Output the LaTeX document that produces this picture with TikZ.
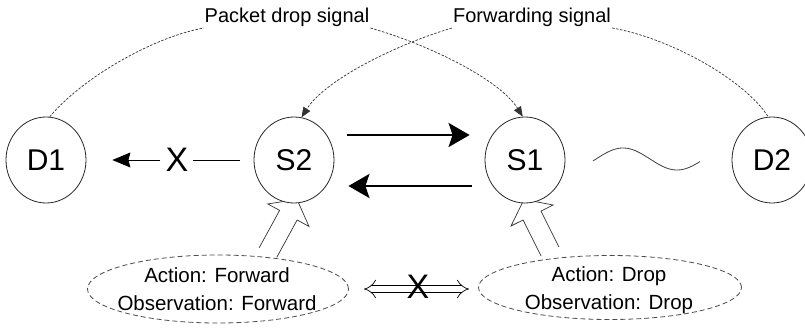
\documentclass[tikz,border=0pt]{standalone}
\usepackage{fontspec}
\setmainfont{Liberation Sans}
\usetikzlibrary{arrows.meta,calc,shapes.geometric}
\pgfdeclarelayer{bg}
\pgfsetlayers{bg,main}
\tikzset{
 circ/.style={ellipse, draw=black!85, line width=0.8pt, fill=white, minimum width=80pt, minimum height=86pt, inner sep=0pt, font=\fontsize{30}{36}\selectfont},
 obs/.style={ellipse, draw=black!70, line width=0.8pt, dash pattern=on 5pt off 3pt, inner sep=0pt},
 obstext/.style={align=center, inner sep=0pt, font=\fontsize{20.5}{28}\selectfont},
 sig/.style={inner sep=1pt, font=\fontsize{20}{24}\selectfont},
 sigline/.style={draw=black!80, line width=0.7pt, dash pattern=on 2.5pt off 1.5pt},
 sigarrow/.style={sigline, -{Triangle[length=10pt,width=8pt]}},
 bigx/.style={inner sep=0pt, font=\fontsize{34}{40}\selectfont},
 flow/.style={line width=2.6pt, -{Stealth[length=21pt,width=24pt,inset=4pt]}},
 thinflow/.style={line width=0.8pt},
 hollow/.style={draw=black!80, line width=0.7pt, line join=miter},
 wave/.style={line width=0.8pt, draw=black!75},
}
\newcommand\hollowarrow[3]{% base, tip, head-base name
  \coordinate (#3) at ($(#2)!18pt!(#1)$);
  \draw[hollow] ($(#1)!10pt!90:(#2)$) -- ($(#3)!10pt!90:(#2)$) -- ($(#3)!23.5pt!90:(#2)$) -- (#2)
     -- ($(#3)!23.5pt!-90:(#2)$) -- ($(#3)!10pt!-90:(#2)$) -- ($(#1)!10pt!-90:(#2)$);
}
\begin{document}
\begin{tikzpicture}[x=1pt,y=-1pt]
\useasboundingbox (0,0) rectangle (805,329);
\begin{pgfonlayer}{bg}
\fill[white] (0,0) rectangle (805,329);
\end{pgfonlayer}

% circles
\node[circ] (D1) at (46,160) {D1};
\node[circ] (S2) at (294,160) {S2};
\node[circ] (S1) at (525,160) {S1};
\node[circ] (D2) at (772,160) {D2};

% signal labels
\node[sig] (pd) at (287,17.5) {Packet drop signal};
\node[sig] (fw) at (532,17.5) {Forwarding signal};

% observation ellipses
\node[obs, minimum width=261pt, minimum height=68pt] (le) at (218,289) {};
\node[obs, minimum width=263pt, minimum height=64pt] (re) at (610,287.5) {};
\node[obstext] (ltxt) at (217,288.7) {Action: Forward\\Observation: Forward};
\node[obstext] (rtxt) at (609,290) {Action: Drop\\Observation: Drop};

% dashed signal curves
\draw[sigline] (D1.85) .. controls (80,80) and (150,38) .. (pd.south west);
\draw[sigarrow] (pd.south east) .. controls (430,45) and (500,80) .. (S1.93);
\draw[sigarrow] (fw.south west) .. controls (395,45) and (325,80) .. (S2.80);
\draw[sigline] (fw.south east) .. controls (670,38) and (745,80) .. (D2.95);

% thick flows between S2 and S1
\draw[flow, shorten <=13pt, shorten >=15pt] ([yshift=25pt]S2.east) -- ([yshift=25pt]S1.west);
\draw[flow, shorten <=13pt, shorten >=14pt] ([yshift=-26pt]S1.west) -- ([yshift=-26pt]S2.east);

% blocked S2 -> D1
\node[bigx] (x1) at (177,160) {X};
\draw[thinflow, shorten <=14pt, shorten >=4pt] (S2.west) -- (x1.east);
\draw[thinflow, -{Stealth[length=18pt,width=15pt,inset=2pt]}, shorten <=5pt, shorten >=26pt] (x1.west) -- (D1.east);

% blocked double arrow between ellipses
\draw[double=white, double distance=6pt, line width=0.7pt, {Implies[scale=1.25]}-{Implies[scale=1.25]}, shorten <=15pt, shorten >=9pt] (le.east) -- (le.east -| re.west);
\node[bigx] (x2) at (418,287) {X};

% wave between S1 and D2
\draw[wave] plot[domain=593:700, samples=80, smooth] (\x, {159 - 11*cos((\x-623)/108*360)});

% hollow block arrows (behind circles)
\coordinate (lb) at (268,252.5);
\coordinate (rb) at (550,251.5);
\coordinate (tipL) at ($(S2.south)+(3,-4)$);
\coordinate (tipR) at ($(S1.south)+(-1,-4)$);
\begin{pgfonlayer}{bg}
\hollowarrow{lb}{tipL}{hL}
\hollowarrow{rb}{tipR}{hR}
\end{pgfonlayer}
\end{tikzpicture}
\end{document}
